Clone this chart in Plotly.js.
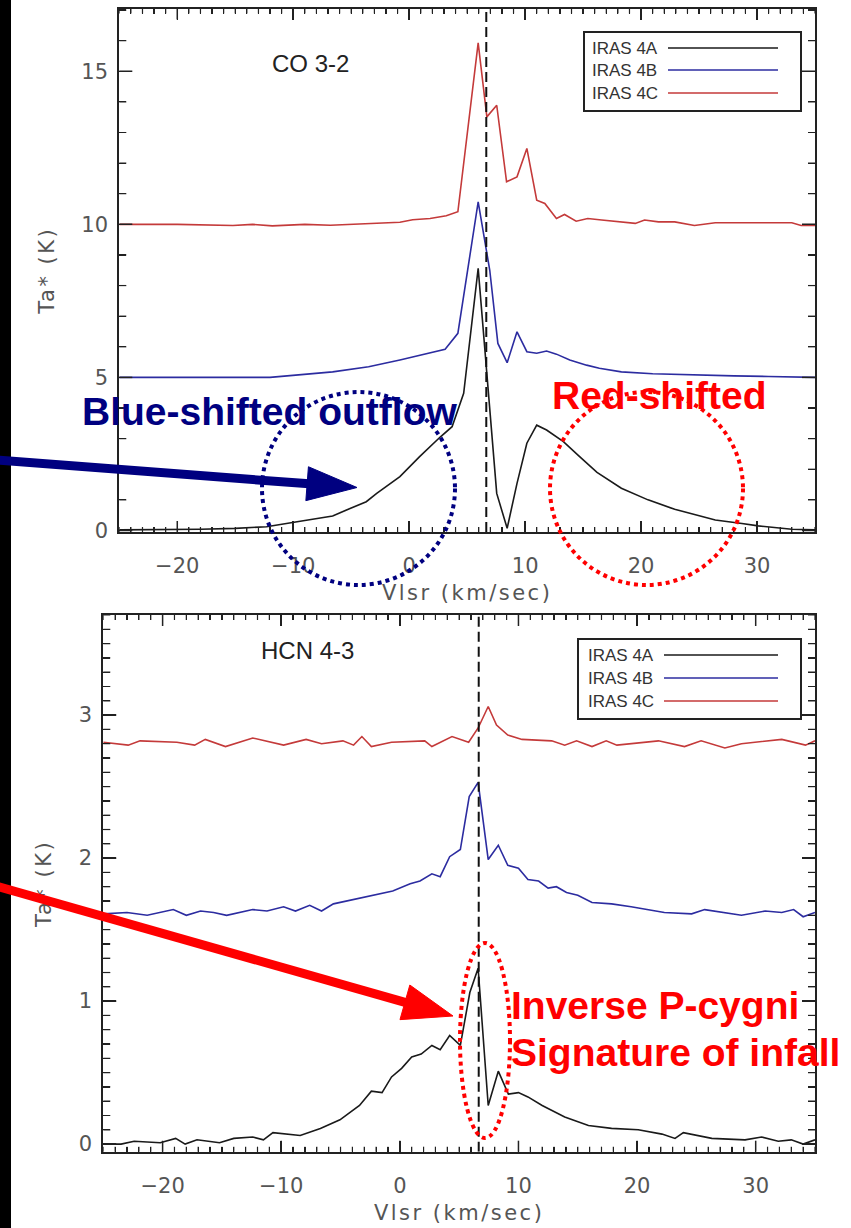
<!DOCTYPE html>
<html>
<head>
<meta charset="utf-8">
<script src="https://cdn.plot.ly/plotly-3.0.1.min.js"></script>
<style>
  html, body { margin:0; padding:0; background:#fff; }
  body { position:relative; width:851px; height:1228px; }
  .layer { position:absolute; left:0; top:0; width:851px; height:1228px; }
  #overlay { pointer-events:none; }
  text.xtitle, text.ytitle { letter-spacing: 2.5px; }
</style>
</head>
<body>
<div id="chartCO" class="layer"></div>
<div id="chartHCN" class="layer"></div>
<div id="overlay" class="layer"></div>
<script>
// ---------------- DATA ----------------
const vsys = [6.65, 6.65];           // systemic velocity, km/s (dashed line)
const vsysSpanCO = [-0.05, 17.05];   // dashed line spans the full CO panel
const vsysSpanHCN = [-0.053, 3.70];  // ... and the full HCN panel
const vRange = [-25, 35];

const co_4a_v = [-25, -21, -18, -15, -12.3, -9.4, -6.6, -5.1, -3.7, -2.8, -0.8, 0.9, 1.8, 2.7, 3.7, 4.7, 5.95, 6.8, 7.55, 8.45, 9.3, 10.15, 11.0, 11.85, 13.3, 14.7, 16.2, 18.3, 20.6, 22.9, 26.4, 28.7, 30.1, 33.0, 35.0];
const co_4a_T = [0.02, 0.03, 0.04, 0.07, 0.12, 0.3, 0.47, 0.72, 0.94, 1.21, 1.76, 2.41, 2.74, 3.06, 3.39, 4.48, 8.56, 4.7, 1.21, 0.07, 1.54, 2.85, 3.44, 3.28, 2.9, 2.41, 1.9, 1.38, 1.0, 0.69, 0.34, 0.23, 0.15, 0.04, 0.02];

const co_4b_v = [-25, -18, -12, -6.6, -3.5, -0.8, 1.8, 3.1, 4.2, 5.95, 6.95, 7.65, 8.45, 9.3, 10.15, 11.0, 11.85, 12.7, 13.85, 15.3, 16.4, 18.3, 21, 24.3, 28, 31, 35];
const co_4b_T = [5.0, 5.0, 5.0, 5.18, 5.35, 5.57, 5.8, 5.92, 6.44, 10.73, 8.5, 6.11, 5.48, 6.49, 5.84, 5.79, 5.86, 5.76, 5.57, 5.40, 5.30, 5.18, 5.12, 5.08, 5.05, 5.03, 5.0];

const co_4c_v = [-25, -20, -15.2, -13.5, -11.8, -9, -6.8, -3.5, -0.8, 0.3, 1.8, 3.2, 4.2, 5.95, 6.7, 7.55, 8.4, 9.3, 10.15, 11.0, 11.7, 12.7, 13.4, 14.4, 15.4, 16.6, 18.0, 19.5, 20.3, 21.5, 22.9, 24.6, 26.4, 30.1, 33.0, 33.8, 35];
const co_4c_T = [10.0, 10.0, 9.96, 10.0, 9.95, 10.0, 9.97, 10.02, 10.07, 10.15, 10.19, 10.28, 10.41, 15.93, 13.51, 13.89, 11.39, 11.55, 12.48, 10.79, 10.68, 10.19, 10.32, 10.1, 10.19, 10.14, 10.08, 10.03, 10.14, 10.08, 10.08, 9.96, 10.05, 10.05, 10.05, 9.96, 9.96];

const hcn_4a_v = [-25, -23.5, -22.4, -20.2, -18.9, -18.1, -17.1, -15.2, -14.0, -12.4, -11.5, -10.7, -8.4, -6.7, -5.05, -3.4, -2.4, -1.5, -0.7, 0.15, 1.0, 1.8, 2.7, 3.4, 4.2, 5.1, 5.9, 6.6, 7.45, 8.3, 9.15, 10.0, 10.8, 12.0, 13.9, 15.9, 17.85, 20.1, 22.1, 23.2, 23.9, 26.3, 29.1, 30.5, 31.9, 33.0, 34.0, 35];
const hcn_4a_T = [0.0, 0.0, 0.02, 0.01, 0.04, 0.0, 0.03, 0.01, 0.04, 0.05, 0.03, 0.08, 0.06, 0.11, 0.17, 0.27, 0.37, 0.36, 0.47, 0.53, 0.61, 0.63, 0.69, 0.66, 0.76, 0.69, 1.06, 1.23, 0.27, 0.51, 0.35, 0.36, 0.33, 0.27, 0.19, 0.13, 0.11, 0.10, 0.07, 0.04, 0.08, 0.04, 0.03, 0.05, 0.02, 0.03, 0.0, 0.03];

const hcn_4b_v = [-25, -23, -21.3, -19.1, -18, -16.8, -15.7, -14.6, -12.4, -11.2, -9.8, -8.8, -7.6, -6.6, -5.6, -3.9, -2.2, -0.6, 0.87, 1.7, 2.7, 3.4, 4.2, 5.1, 5.85, 6.6, 7.45, 8.3, 9.1, 10.0, 10.8, 11.7, 12.5, 13.2, 14.05, 15.0, 16.2, 17.85, 19.5, 22.3, 24.6, 25.7, 28.8, 30.8, 32.2, 33.2, 34.0, 35];
const hcn_4b_T = [1.61, 1.62, 1.60, 1.64, 1.60, 1.63, 1.62, 1.60, 1.64, 1.63, 1.66, 1.63, 1.67, 1.63, 1.68, 1.71, 1.74, 1.77, 1.82, 1.84, 1.89, 1.87, 2.01, 2.06, 2.43, 2.53, 1.99, 2.09, 1.95, 1.93, 1.85, 1.84, 1.79, 1.80, 1.76, 1.74, 1.69, 1.68, 1.66, 1.62, 1.61, 1.64, 1.60, 1.63, 1.62, 1.64, 1.59, 1.62];

const hcn_4c_v = [-25, -22.9, -21.9, -18.8, -17.3, -16.4, -14.7, -12.4, -9.8, -7.9, -6.6, -4.8, -3.9, -3.2, -2.4, -0.7, 2.1, 2.7, 4.4, 5.8, 6.6, 7.45, 8.15, 9.1, 10.3, 12.8, 13.9, 14.9, 16.2, 17.4, 18.3, 20.4, 21.8, 24.0, 25.4, 27.4, 28.8, 32.2, 34.2, 35];
const hcn_4c_T = [2.81, 2.79, 2.82, 2.81, 2.79, 2.83, 2.78, 2.84, 2.79, 2.83, 2.80, 2.82, 2.79, 2.85, 2.78, 2.81, 2.82, 2.78, 2.85, 2.81, 2.91, 3.06, 2.93, 2.86, 2.83, 2.82, 2.79, 2.82, 2.78, 2.82, 2.79, 2.81, 2.82, 2.78, 2.82, 2.77, 2.80, 2.83, 2.79, 2.82];

const seriesNames = ['IRAS 4A', 'IRAS 4B', 'IRAS 4C'];
const panelLabels = ['CO 3-2', 'HCN 4-3'];
const xTitle = 'Vlsr (km/sec)';
const yTitle = 'Ta* (K)';
const notes = ['Blue-shifted outflow', 'Red-shifted', 'Inverse P-cygni', 'Signature of infall'];

// ---------------- STYLE ----------------
const W = 851, H = 1228;
const X = p => p / W;
const Y = p => 1 - p / H;
const colors = ['#1a1a1a', '#2c2ca0', '#c43a3a'];
const NAVY = '#000080', RED = '#ff0000';
const cfg = { displayModeBar: false, staticPlot: true };

function tr(v, T, i) {
  return { x: v, y: T, type: 'scatter', mode: 'lines', name: seriesNames[i],
    showlegend: false, hoverinfo: 'skip', line: { color: colors[i], width: 1.6 } };
}
function vline(span) {
  return { x: vsys, y: span, type: 'scatter', mode: 'lines', showlegend: false, hoverinfo: 'skip',
    line: { color: '#111', width: 2, dash: '10px,5px' } };
}

const tickFont = { family: 'DejaVu Sans', size: 21, color: '#555' };

function xax(dom) {
  return { domain: dom, range: vRange,
    showline: true, linewidth: 2, linecolor: '#222', mirror: 'allticks',
    ticks: 'inside', tickcolor: '#222', tickwidth: 1.5, ticklen: 11,
    showgrid: false, zeroline: false, tickfont: tickFont,
    tick0: 0, dtick: 10, ticklabelstandoff: 14,
    minor: { dtick: 1, ticklen: 5, tickwidth: 1.2, tickcolor: '#222', ticks: 'inside' },
    title: { text: xTitle, font: tickFont, standoff: 8 } };
}
function yax(dom, range, dt, mdt) {
  return { domain: dom, range: range,
    showline: true, linewidth: 2, linecolor: '#222', mirror: 'allticks',
    ticks: 'inside', tickcolor: '#222', tickwidth: 1.5, ticklen: 13,
    showgrid: false, zeroline: false, tickfont: tickFont,
    tick0: 0, dtick: dt, ticklabelstandoff: 5,
    minor: { dtick: mdt, ticklen: 7, tickwidth: 1.2, tickcolor: '#222', ticks: 'inside' },
    title: { text: yTitle, font: tickFont, standoff: 21 } };
}

// tick marks on all four sides, placed through the axes (xref 'x' / yref 'y')
function tickMarks(xr, xMaj, xMin, yr, yMaj, yMin, plotW, plotH) {
  const s = [];
  const add = (o, major) => s.push(Object.assign(o, { type: 'line', layer: 'above',
    line: { color: '#222', width: major ? 1.5 : 1.2 } }));
  const xStep = Math.round(xMaj / xMin);
  for (let k = Math.ceil(xr[0] / xMin); k <= Math.floor(xr[1] / xMin); k++) {
    const v = k * xMin, major = k % xStep === 0, f = (major ? 11 : 5) / plotH;
    add({ xref: 'x', yref: 'y domain', x0: v, x1: v, y0: 0, y1: f }, major);
    add({ xref: 'x', yref: 'y domain', x0: v, x1: v, y0: 1, y1: 1 - f }, major);
  }
  const yStep = Math.round(yMaj / yMin);
  for (let k = Math.ceil(yr[0] / yMin); k <= Math.floor(yr[1] / yMin); k++) {
    const v = k * yMin, major = k % yStep === 0, f = (major ? 13 : 7) / plotW;
    add({ xref: 'x domain', yref: 'y', x0: 0, x1: f, y0: v, y1: v }, major);
    add({ xref: 'x domain', yref: 'y', x0: 1, x1: 1 - f, y0: v, y1: v }, major);
  }
  return s;
}

// Panel 1: CO 3-2
Plotly.newPlot('chartCO', [
  tr(co_4a_v, co_4a_T, 0), tr(co_4b_v, co_4b_T, 1), tr(co_4c_v, co_4c_T, 2), vline(vsysSpanCO)
], {
  width: W, height: H, margin: { l: 0, r: 0, t: 0, b: 0 },
  paper_bgcolor: '#fff', plot_bgcolor: '#fff', showlegend: false,
  xaxis: xax([X(119.3), X(815)]),
  yaxis: yax([Y(532), Y(8.5)], [-0.05, 17.05], 5, 1),
  shapes: tickMarks(vRange, 10, 1, vsysSpanCO, 5, 1, 815 - 119.3, 532 - 8.5)
}, cfg);

// Panel 2: HCN 4-3
Plotly.newPlot('chartHCN', [
  tr(hcn_4a_v, hcn_4a_T, 0), tr(hcn_4b_v, hcn_4b_T, 1), tr(hcn_4c_v, hcn_4c_T, 2), vline(vsysSpanHCN)
], {
  width: W, height: H, margin: { l: 0, r: 0, t: 0, b: 0 },
  paper_bgcolor: 'rgba(0,0,0,0)', plot_bgcolor: '#fff', showlegend: false,
  xaxis: xax([X(103.3), X(815)]),
  yaxis: yax([Y(1151.7), Y(615)], [-0.053, 3.70], 1, 0.1),
  shapes: tickMarks(vRange, 10, 1, vsysSpanHCN, 1, 0.1, 815 - 103.3, 1151.7 - 615)
}, cfg);

// Overlay: legends, labels, annotations
const shapes = [];
const annotations = [];
shapes.push({ type: 'rect', xref: 'paper', yref: 'paper', x0: 0, x1: X(11), y0: 0, y1: 1,
  fillcolor: '#000', line: { width: 0 } });

function legend(box, lineX0, lineX1, textX, rows) {
  shapes.push({ type: 'rect', xref: 'paper', yref: 'paper',
    x0: X(box[0]), x1: X(box[1]), y0: Y(box[3]), y1: Y(box[2]),
    line: { color: '#222', width: 2 } });
  rows.forEach((ry, i) => {
    shapes.push({ type: 'line', xref: 'paper', yref: 'paper', x0: X(lineX0), x1: X(lineX1),
      y0: Y(ry), y1: Y(ry), line: { color: colors[i], width: 1.6 } });
    annotations.push({ xref: 'paper', yref: 'paper', x: X(textX), y: Y(ry), xanchor: 'left',
      yanchor: 'middle', showarrow: false, text: seriesNames[i],
      font: { family: 'Liberation Sans', size: 17, color: '#333' } });
  });
}
legend([584, 801, 32, 111], 668, 778, 590, [48, 70, 93]);
legend([578, 801, 639, 719], 664, 778, 586, [655, 678, 701]);

annotations.push({ xref: 'paper', yref: 'paper', x: X(310), y: Y(63), xanchor: 'center', yanchor: 'middle',
  showarrow: false, text: panelLabels[0], font: { family: 'Liberation Sans', size: 24, color: '#222' } });
annotations.push({ xref: 'paper', yref: 'paper', x: X(307), y: Y(650), xanchor: 'center', yanchor: 'middle',
  showarrow: false, text: panelLabels[1], font: { family: 'Liberation Sans', size: 24, color: '#222' } });

const dotted = (c) => ({ color: c, width: 4, dash: '4px,4px' });
shapes.push({ type: 'circle', xref: 'paper', yref: 'paper', x0: X(262), x1: X(455), y0: Y(585), y1: Y(392), line: dotted(NAVY) });
shapes.push({ type: 'circle', xref: 'paper', yref: 'paper', x0: X(550), x1: X(743), y0: Y(585), y1: Y(392), line: dotted(RED) });
shapes.push({ type: 'circle', xref: 'paper', yref: 'paper', x0: X(460), x1: X(510), y0: Y(1138), y1: Y(943), line: dotted(RED) });

function arrow(x0, y0, x1, y1, color, lw, hl, hw) {
  const dx = x1 - x0, dy = y1 - y0, L = Math.hypot(dx, dy);
  const ux = dx / L, uy = dy / L, nx = -uy, ny = ux;
  const bx = x1 - ux * hl, by = y1 - uy * hl;
  shapes.push({ type: 'line', xref: 'paper', yref: 'paper', x0: X(x0), y0: Y(y0),
    x1: X(bx + ux * 2), y1: Y(by + uy * 2), line: { color: color, width: lw } });
  const p = [[x1, y1], [bx + nx * hw, by + ny * hw], [bx - nx * hw, by - ny * hw]];
  shapes.push({ type: 'path', xref: 'paper', yref: 'paper',
    path: 'M' + p.map(q => X(q[0]) + ',' + Y(q[1])).join(' L') + ' Z',
    fillcolor: color, line: { color: color, width: 1 } });
}
arrow(-4, 460, 357, 487.5, NAVY, 9, 50, 17);
arrow(-4, 886, 453, 1016, RED, 9, 50, 18);

const bigFont = (c) => ({ family: 'Liberation Sans', size: 39, color: c, weight: 'bold' });
annotations.push({ xref: 'paper', yref: 'paper', x: X(80), y: Y(411), xanchor: 'left', yanchor: 'middle',
  showarrow: false, text: notes[0], font: bigFont(NAVY) });
annotations.push({ xref: 'paper', yref: 'paper', x: X(550), y: Y(395), xanchor: 'left', yanchor: 'middle',
  showarrow: false, text: notes[1], font: bigFont(RED) });
annotations.push({ xref: 'paper', yref: 'paper', x: X(509), y: Y(1005), xanchor: 'left', yanchor: 'middle',
  showarrow: false, text: notes[2], font: bigFont(RED) });
annotations.push({ xref: 'paper', yref: 'paper', x: X(509), y: Y(1052), xanchor: 'left', yanchor: 'middle',
  showarrow: false, text: notes[3], font: bigFont(RED) });

Plotly.newPlot('overlay', [], {
  width: W, height: H, margin: { l: 0, r: 0, t: 0, b: 0 },
  paper_bgcolor: 'rgba(0,0,0,0)', plot_bgcolor: 'rgba(0,0,0,0)', showlegend: false,
  xaxis: { visible: false, range: [0, 1] }, yaxis: { visible: false, range: [0, 1] },
  shapes: shapes, annotations: annotations
}, cfg);
</script>
</body>
</html>
